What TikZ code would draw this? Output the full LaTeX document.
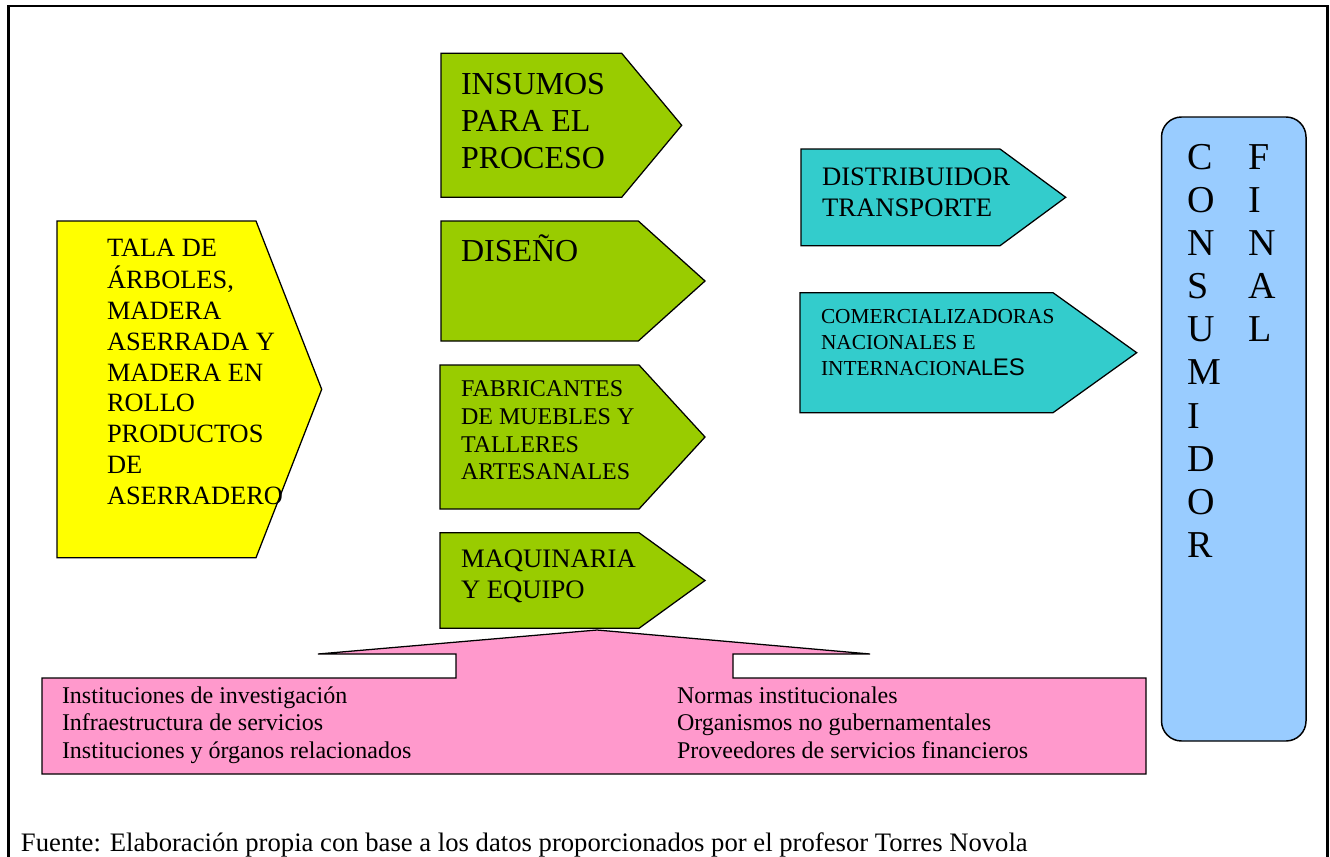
\documentclass[tikz,border=0pt]{standalone}
\usepackage{fontspec}
\setmainfont{Liberation Serif}
\newfontfamily\arialfont{Liberation Sans}
% left-aligned block of lines whose baseline is the first line
\newcommand\txtlines[1]{\begin{tabular}[t]{@{}l@{}}#1\end{tabular}}
\definecolor{yellowfill}{HTML}{FFFF00}
\definecolor{greenfill}{HTML}{99CC00}
\definecolor{cyanfill}{HTML}{33CCCC}
\definecolor{bluefill}{HTML}{99CCFF}
\definecolor{pinkfill}{HTML}{FF99CC}
\begin{document}
\begin{tikzpicture}[x=0.75pt,y=-0.75pt,
  outline/.style={draw=black,line width=0.95pt,line join=miter},
  yellowbox/.style={outline,fill=yellowfill},
  greenbox/.style={outline,fill=greenfill},
  cyanbox/.style={outline,fill=cyanfill},
  bluebox/.style={outline,line width=1.1pt,fill=bluefill,rounded corners=15pt},
  pinkbox/.style={outline,fill=pinkfill},
  txt/.style={anchor=base west,inner sep=0pt,outer sep=0pt,text=black}
]
\clip (0,0) rectangle (1330,856);
\fill[white] (0,0) rectangle (1330,856);

% outer frame, open at the bottom
\draw[line width=2.1pt] (8.5,900) -- (8.5,6) -- (1327.5,6) -- (1327.5,900);

% raw material
\draw[yellowbox] (57,221) -- (256,221) -- (321.7,389.3) -- (256,557.7) -- (57,557.7) -- cycle;
\node[txt,font=\fontsize{19.8pt}{23.1pt}\selectfont] (tala) at (107,256.7)
  {\txtlines{TALA DE\\ ÁRBOLES,\\ MADERA\\ ASERRADA Y\\ MADERA EN\\ ROLLO\\ PRODUCTOS\\ DE\\ ASERRADERO}};

% production stage
\draw[greenbox] (441,53.3) -- (621.7,53.3) -- (681.7,125.3) -- (621.7,197.3) -- (441,197.3) -- cycle;
\node[txt,font=\fontsize{24pt}{27.9pt}\selectfont] (insumos) at (461,94.3)
  {\txtlines{INSUMOS\\ PARA EL\\ PROCESO}};

\draw[greenbox] (441,221) -- (638.3,221) -- (705,281) -- (638.3,341) -- (441,341) -- cycle;
\node[txt,font=\fontsize{24pt}{27.9pt}\selectfont] (diseno) at (461,261.7) {DISEÑO};

\draw[greenbox] (440,365) -- (639,365) -- (705,437) -- (639,509) -- (440,509) -- cycle;
\node[txt,font=\fontsize{18pt}{20.8pt}\selectfont] (fabricantes) at (461,396.7)
  {\txtlines{FABRICANTES\\ DE MUEBLES Y\\ TALLERES\\ ARTESANALES}};

\draw[greenbox] (440,532.7) -- (639,532.7) -- (705,580.5) -- (639,628.3) -- (440,628.3) -- cycle;
\node[txt,font=\fontsize{20pt}{23pt}\selectfont] (maquinaria) at (461,567.7)
  {\txtlines{MAQUINARIA\\ Y EQUIPO}};

% distribution stage
\draw[cyanbox] (801,149) -- (1000,149) -- (1065.7,197.3) -- (1000,245.7) -- (801,245.7) -- cycle;
\node[txt,font=\fontsize{20pt}{23.3pt}\selectfont] (distribuidor) at (822,185)
  {\txtlines{DISTRIBUIDOR\\ TRANSPORTE}};

\draw[cyanbox] (800,292.7) -- (1053,292.7) -- (1136.7,352.7) -- (1053,412.7) -- (800,412.7) -- cycle;
\node[txt,font=\fontsize{16pt}{19.4pt}\selectfont] (comercial) at (821,323.3)
  {\txtlines{COMERCIALIZADORAS\\ NACIONALES E\\ INTERNACION{\arialfont AL{\fontsize{18pt}{20pt}\selectfont ES}}}};

% final consumer
\draw[bluebox] (1161.5,117) rectangle (1306,741);
\node[txt,font=\fontsize{28.5pt}{32.3pt}\selectfont] (consumidor) at (1187,169.6)
  {\txtlines{C\\ O\\ N\\ S\\ U\\ M\\ I\\ D\\ O\\ R}};
\node[txt,font=\fontsize{28.5pt}{32.3pt}\selectfont] (final) at (1248,169.6)
  {\txtlines{F\\ I\\ N\\ A\\ L}};

% supporting institutions
\draw[pinkbox] (597,630) -- (870,654) -- (733,654) -- (733,678) -- (1146,678) -- (1146,774)
  -- (42,774) -- (42,678) -- (456,678) -- (456,654) -- (318,654) -- cycle;
\node[txt,font=\fontsize{18pt}{20.6pt}\selectfont] (apoyoizq) at (62,703.3)
  {\txtlines{Instituciones de investigación\\ Infraestructura de servicios\\ Instituciones y órganos relacionados}};
\node[txt,font=\fontsize{18pt}{20.6pt}\selectfont] (apoyoder) at (677,703.3)
  {\txtlines{Normas institucionales\\ Organismos no gubernamentales\\ Proveedores de servicios financieros}};

% source note
\node[txt,font=\fontsize{20pt}{23pt}\selectfont] (fuente) at (21,851)
  {Fuente: Elaboración propia con base a los datos proporcionados por el profesor Torres Novola};
\end{tikzpicture}
\end{document}
